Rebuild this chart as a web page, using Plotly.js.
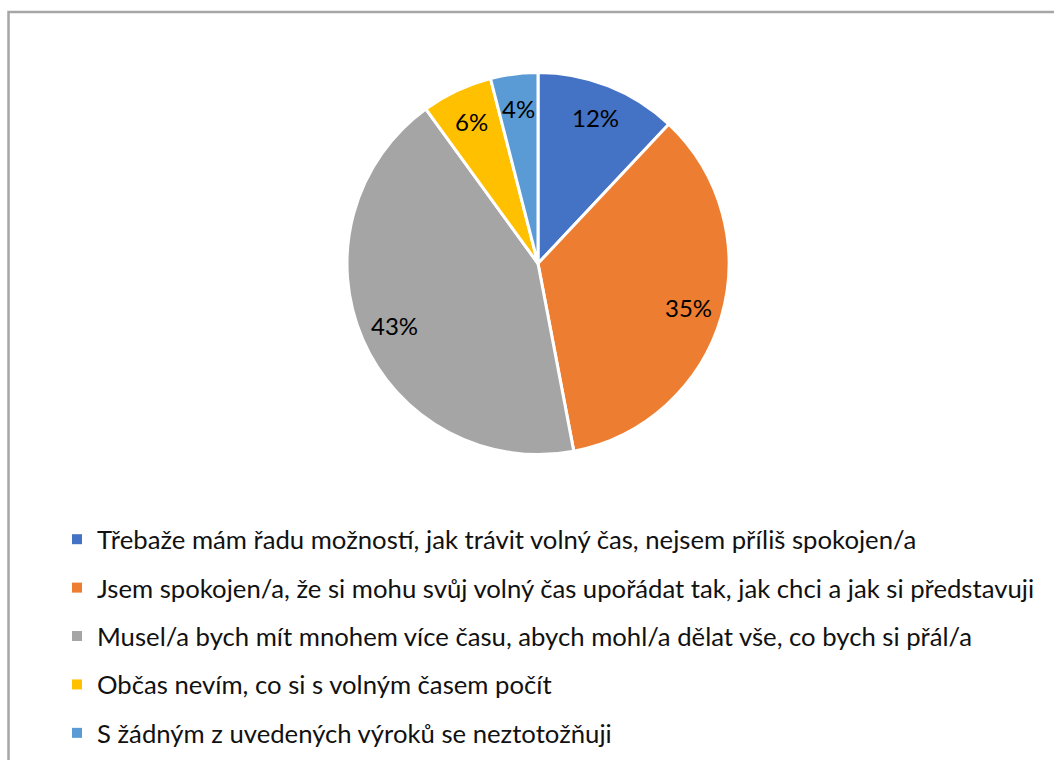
<!DOCTYPE html>
<html><head><meta charset="utf-8">
<script src="https://cdn.plot.ly/plotly-3.0.1.min.js"></script>
<style>html,body{margin:0;padding:0;background:#fff}#chart{width:1054px;height:760px}</style>
</head><body><div id="chart"></div>
<script>
const labels = [
  "Třebaže mám řadu možností, jak trávit volný čas, nejsem příliš spokojen/a",
  "Jsem spokojen/a, že si mohu svůj volný čas upořádat tak, jak chci a jak si představuji",
  "Musel/a bych mít mnohem více času, abych mohl/a dělat vše, co bych si přál/a",
  "Občas nevím, co si s volným časem počít",
  "S žádným z uvedených výroků se neztotožňuji"
];
const values = [12, 35, 43, 6, 4];
const colors = ["#4472C4", "#ED7D31", "#A5A5A5", "#FFC000", "#5B9BD5"];

const W = 1054, H = 760;
const font = "Lato, 'Open Sans', sans-serif";

const pieTrace = {
  type: 'pie', labels: labels, values: values, sort: false,
  direction: 'clockwise', rotation: 0,
  marker: {colors: colors, line: {color: '#ffffff', width: 3}},
  textinfo: 'none',
  domain: {x: [347 / W, 729 / W], y: [1 - 454.5 / H, 1 - 72.5 / H]},
  showlegend: false, hoverinfo: 'label+percent'
};

const legendTraces = labels.map((l, i) => ({
  type: 'scatter', x: [null], y: [null], mode: 'markers', name: l,
  legendgroup: 'g' + i,
  marker: {symbol: 'square', size: 10, color: colors[i]},
  hoverinfo: 'skip'
}));

const layout = {
  width: W, height: H,
  margin: {l: 0, r: 0, t: 0, b: 0},
  paper_bgcolor: '#ffffff', plot_bgcolor: '#ffffff',
  xaxis: {visible: false, fixedrange: true},
  yaxis: {visible: false, fixedrange: true},
  showlegend: true,
  legend: {
    x: 57 / W, xanchor: 'left', y: 1 - 516 / H, yanchor: 'top',
    orientation: 'v', tracegroupgap: 12, traceorder: 'grouped',
    font: {family: font, size: 25.7, color: '#111111'},
    bgcolor: 'rgba(0,0,0,0)'
  },
  shapes: [{
    type: 'rect', xref: 'paper', yref: 'paper',
    x0: 8.5 / W, x1: 1.05, y0: -0.05, y1: 1 - 12 / H,
    line: {color: '#A6A6A6', width: 2.5}, layer: 'below'
  }]
};

const gd = document.getElementById('chart');
Plotly.newPlot(gd, [pieTrace].concat(legendTraces), layout, {displayModeBar: false, staticPlot: true}).then(() => {
  // place percentage labels at ~0.82 of the radius, using the pie geometry computed by Plotly
  const cd0 = gd.calcdata[0][0];
  const fs = gd._fullLayout._size;
  const cx = fs.l + cd0.cx, cy = fs.t + cd0.cy, r = cd0.r;
  const total = values.reduce((a, b) => a + b, 0);
  let cum = 0;
  const ann = values.map((v) => {
    const th = 2 * Math.PI * (cum + v / 2) / total;
    cum += v;
    const px = cx + 0.82 * r * Math.sin(th);
    const py = cy - 0.82 * r * Math.cos(th);
    return {
      xref: 'paper', yref: 'paper', x: px / W, y: 1 - py / H,
      xanchor: 'center', yanchor: 'middle', showarrow: false,
      text: Math.round(100 * v / total) + '%',
      font: {family: font, size: 24, color: '#000000'}
    };
  });
  return Plotly.relayout(gd, {annotations: ann});
});
</script>
</body></html>
